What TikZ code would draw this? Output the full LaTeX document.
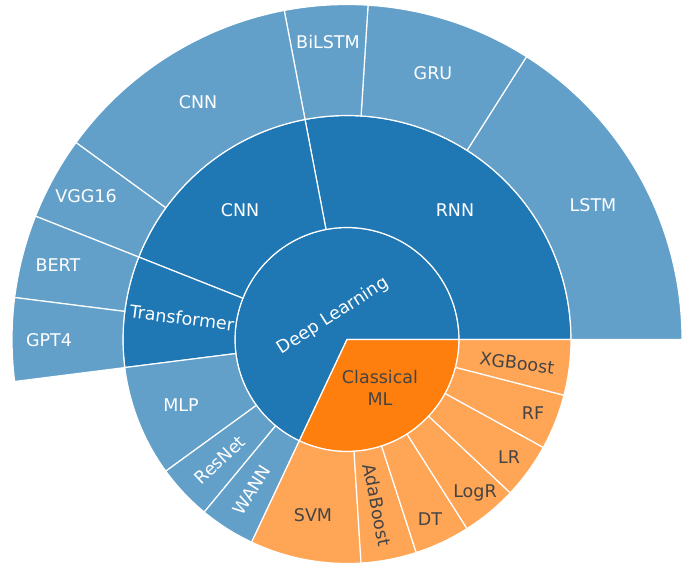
\documentclass[tikz,border=0pt]{standalone}
\usepackage{fontspec}
\setmainfont{DejaVu Sans}
\usetikzlibrary{positioning}
\definecolor{dlblue}{HTML}{1F77B4}
\definecolor{dlleaf}{HTML}{62A0CA}
\definecolor{mlorange}{HTML}{FF7F0E}
\definecolor{mlleaf}{HTML}{FFA556}
\definecolor{mltext}{HTML}{444444}
\tikzset{x=1pt, y=1pt,
  wedge/.style={draw=white, line width=1.2pt, line join=round},
  lbl/.style={font=\fontsize{17.5}{22}\selectfont, text=white, inner sep=0pt, align=center},
  mllbl/.style={lbl, text=mltext}}
% ring sector: inner radius, outer radius, start angle, end angle, colour
\newcommand{\sector}[5]{\filldraw[wedge, fill=#5] (#3:#1) arc[start angle=#3, end angle=#4, radius=#1]
  -- (#4:#2) arc[start angle=#4, end angle=#3, radius=#2] -- cycle;}

\begin{document}
\begin{tikzpicture}
    \useasboundingbox (0,0) rectangle (690,565);
    \begin{scope}[shift={(347,225.5)}]
    % centre
    \filldraw[wedge, fill=dlblue] (0,0) -- (0:112) arc[start angle=0, end angle=244.8, radius=112] -- cycle;
    \filldraw[wedge, fill=mlorange] (0,0) -- (244.8:112) arc[start angle=244.8, end angle=360, radius=112] -- cycle;
    % middle ring
    \sector{112}{224}{0}{100.8}{dlblue}
    \sector{112}{224}{100.8}{158.4}{dlblue}
    \sector{112}{224}{158.4}{187.2}{dlblue}
    \sector{112}{224}{187.2}{216}{dlleaf}
    \sector{112}{224}{216}{230.4}{dlleaf}
    \sector{112}{224}{230.4}{244.8}{dlleaf}
    \sector{112}{224}{244.8}{273.6}{mlleaf}
    \sector{112}{224}{273.6}{288}{mlleaf}
    \sector{112}{224}{288}{302.4}{mlleaf}
    \sector{112}{224}{302.4}{316.8}{mlleaf}
    \sector{112}{224}{316.8}{331.2}{mlleaf}
    \sector{112}{224}{331.2}{345.6}{mlleaf}
    \sector{112}{224}{345.6}{360}{mlleaf}
    % outer ring
    \sector{224}{335}{0}{57.6}{dlleaf}
    \sector{224}{335}{57.6}{86.4}{dlleaf}
    \sector{224}{335}{86.4}{100.8}{dlleaf}
    \sector{224}{335}{100.8}{144}{dlleaf}
    \sector{224}{335}{144}{158.4}{dlleaf}
    \sector{224}{335}{158.4}{172.8}{dlleaf}
    \sector{224}{335}{172.8}{187.2}{dlleaf}
    \end{scope}

    \node[lbl, rotate=32.4] (dl) at (333,249) {Deep Learning};
    \node[mllbl] (cml) at (380,177) {Classical\\ML};
    \node[lbl] (rnn) at (455,355) {RNN};
    \node[lbl] (cnn) at (240,355) {CNN};
    \node[lbl, rotate=-7.2] (trf) at (182,247) {Transformer};
    \node[lbl] (mlp) at (181,160) {MLP};
    \node[lbl, rotate=43.2] (resnet) at (220,105) {ResNet};
    \node[lbl, rotate=57.6] (wann) at (252,75) {WANN};
    \node[lbl] (lstm) at (593,360) {LSTM};
    \node[lbl] (gru) at (433,492) {GRU};
    \node[lbl] (bilstm) at (328,523) {BiLSTM};
    \node[lbl] (cnnout) at (198,463) {CNN};
    \node[lbl] (vgg) at (86,369) {VGG16};
    \node[lbl] (bert) at (58,300) {BERT};
    \node[lbl] (gpt) at (49,225) {GPT4};
    \node[mllbl, rotate=-7.2] (xgb) at (517,202) {XGBoost};
    \node[mllbl] (rf) at (533,152) {RF};
    \node[mllbl] (lr) at (509,108) {LR};
    \node[mllbl] (logr) at (475,72) {LogR};
    \node[mllbl] (dt) at (430,46) {DT};
    \node[mllbl, rotate=-79.2] (ada) at (377,60) {AdaBoost};
    \node[mllbl] (svm) at (313,50) {SVM};
\end{tikzpicture}
\end{document}
